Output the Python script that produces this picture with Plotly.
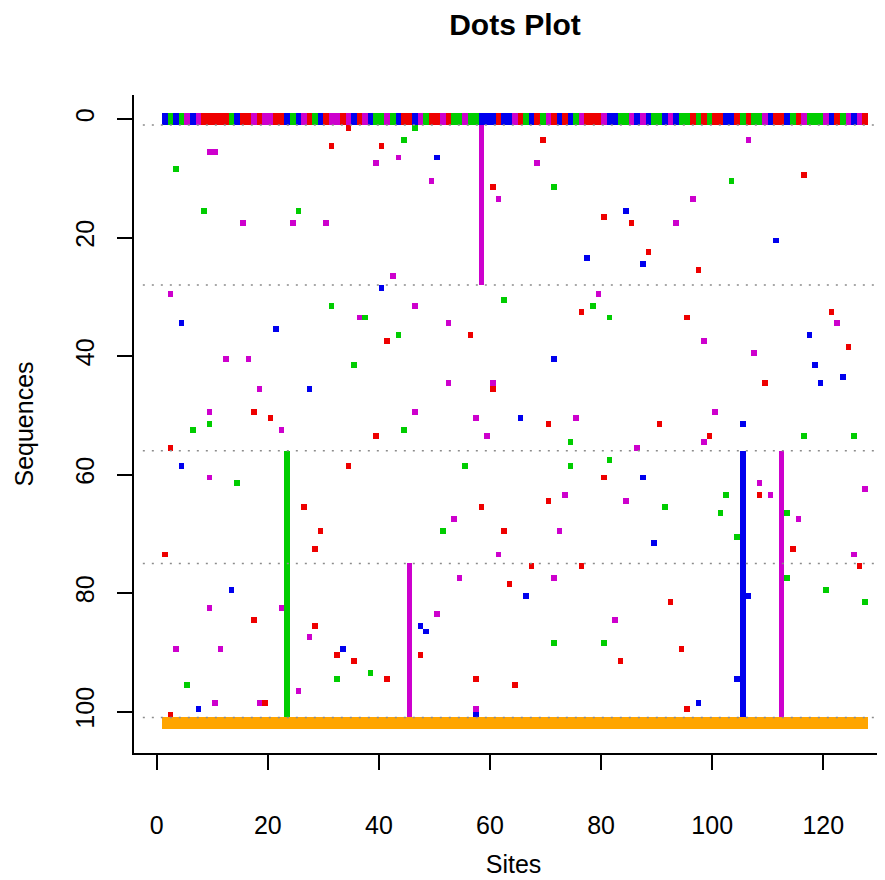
import plotly.graph_objects as go

# ---------------- data ----------------
COLORS = {"R": "#EE0000", "G": "#00CD00", "B": "#0000EE", "M": "#CD00CD"}
CONSENSUS_COLOR = "#FFA500"

# reference sequence (row 0), one letter per site 1..127
reference_row = "".join([
    "BGBGMBM", "RRRRR", "GB", "RR", "M", "R", "MM", "RR", "BGBMRGBR", "MM",
    "RMBRMB", "GG", "MGB", "RR", "BMG", "RR", "MR", "GG", "M", "GG", "BBB",
    "R", "BB", "MRGBRGMRBRBGM", "RRR", "M", "BB", "GG", "MBMB", "GG", "BMB",
    "GG", "RGRG", "RR", "BB", "RGR", "GG", "MB", "RR", "BGRM", "GGG", "MBRGMBMR",
])
reference_sites = list(range(1, len(reference_row) + 1))

# single-site differences: (site, sequence)
red_dots = [(34, 1), (31, 4), (40, 4), (69, 3), (60, 11), (116, 9), (80, 16), (85, 17),
            (88, 22), (97, 25), (56, 36), (41, 37), (60, 45), (17, 49), (20, 50), (39, 53),
            (2, 55), (34, 58), (76, 32), (95, 33), (121, 32), (124, 38), (109, 44), (70, 51),
            (90, 51), (99, 53), (2, 100), (19, 98), (95, 99), (1, 73), (26, 65), (29, 69),
            (28, 72), (58, 65), (62, 69), (67, 75), (70, 64), (80, 60), (76, 75), (108, 63),
            (114, 72), (126, 75), (94, 89), (92, 81), (83, 91), (63, 78), (64, 95), (57, 94),
            (47, 90), (41, 94), (35, 91), (32, 90), (28, 85), (17, 84)]
green_dots = [(46, 1), (44, 3), (3, 8), (8, 15), (25, 15), (71, 11), (103, 10), (62, 30),
              (31, 31), (37, 33), (43, 36), (35, 41), (9, 51), (6, 52), (44, 52), (55, 58),
              (78, 31), (81, 33), (74, 54), (116, 53), (125, 53), (74, 58), (81, 57), (5, 95),
              (14, 61), (51, 69), (91, 65), (101, 66), (102, 63), (104, 70), (113, 66),
              (113, 77), (120, 79), (127, 81), (80, 88), (71, 88), (38, 93), (32, 94)]
blue_dots = [(50, 6), (84, 15), (111, 20), (77, 23), (87, 24), (40, 28), (4, 34), (21, 35),
             (27, 45), (4, 58), (117, 36), (71, 40), (118, 41), (123, 43), (119, 44), (65, 50),
             (105, 51), (7, 99), (57, 100), (97, 98), (87, 60), (89, 71), (106, 80), (104, 94),
             (66, 80), (47, 85), (48, 86), (33, 89), (13, 79)]
magenta_dots = [(106, 3), (9, 5), (10, 5), (43, 6), (39, 7), (49, 10), (61, 13), (15, 17),
                (24, 17), (30, 17), (42, 26), (68, 7), (96, 13), (93, 17), (2, 29), (46, 31),
                (36, 33), (52, 34), (12, 40), (16, 40), (18, 45), (52, 44), (60, 44), (9, 49),
                (46, 49), (57, 50), (22, 52), (59, 53), (79, 29), (122, 34), (98, 37), (107, 39),
                (75, 50), (100, 49), (98, 54), (86, 55), (10, 98), (18, 98), (25, 96), (57, 99),
                (9, 60), (53, 67), (61, 73), (73, 63), (72, 69), (84, 64), (108, 61), (110, 63),
                (115, 67), (125, 73), (127, 62), (82, 84), (71, 77), (54, 77), (50, 83),
                (27, 87), (22, 82), (11, 89), (9, 82), (3, 89)]

# group-wide differences (site, first sequence, last sequence, colour)
block_sites = [58, 23, 45, 105, 112]
block_first = [1, 56, 75, 56, 56]
block_last = [28, 101, 101, 101, 101]
block_codes = ["M", "G", "M", "B", "M"]

# group separators
separator_rows = [1, 28, 56, 75, 101]
separator_from, separator_to = -2.5, 129.1

# bottom consensus bar
consensus_first_site, consensus_last_site = 1, 128
consensus_row, consensus_height = 101, 2

x_ticks = [0, 20, 40, 60, 80, 100, 120]
y_ticks = [0, 20, 40, 60, 80, 100]

# ---------------- figure ----------------
fig = go.Figure()

sx, sy = [], []
for r in separator_rows:
    sx += [separator_from, separator_to, None]
    sy += [r, r, None]
fig.add_trace(go.Scatter(x=sx, y=sy, mode="lines", hoverinfo="skip", showlegend=False,
                         line=dict(color="#8c8c8c", width=1.5, dash="2px,7px")))

# reference row
fig.add_trace(go.Bar(
    x=[s + 0.5 for s in reference_sites], y=[2] * len(reference_sites),
    base=[-1] * len(reference_sites), width=1,
    marker=dict(color=[COLORS[c] for c in reference_row], line=dict(width=0)),
    showlegend=False, hoverinfo="skip"))

for dots, code in [(red_dots, "R"), (green_dots, "G"), (blue_dots, "B"), (magenta_dots, "M")]:
    fig.add_trace(go.Bar(
        x=[s + 0.5 for s, q in dots], y=[1] * len(dots), base=[q for s, q in dots], width=1,
        marker=dict(color=COLORS[code], line=dict(width=0)),
        showlegend=False, hoverinfo="skip"))

fig.add_trace(go.Bar(
    x=[s + 0.5 for s in block_sites], y=[b - a for a, b in zip(block_first, block_last)],
    base=block_first, width=1,
    marker=dict(color=[COLORS[c] for c in block_codes], line=dict(width=0)),
    showlegend=False, hoverinfo="skip"))

fig.add_trace(go.Bar(
    x=[(consensus_first_site + consensus_last_site) / 2], y=[consensus_height],
    base=[consensus_row], width=consensus_last_site - consensus_first_site,
    marker=dict(color=CONSENSUS_COLOR, line=dict(width=0)),
    showlegend=False, hoverinfo="skip"))

FONT = "Liberation Sans, Arial, Helvetica, sans-serif"
fig.update_layout(
    width=885, height=880,
    margin=dict(l=126, r=0, t=87, b=135, pad=0),
    paper_bgcolor="white", plot_bgcolor="white",
    barmode="overlay", bargap=0,
    font=dict(family=FONT, size=25, color="black"),
    title=dict(text="<b>Dots Plot</b>", x=0.502, xref="paper", xanchor="center",
               y=1 - 16 / 880, yref="container", yanchor="middle",
               font=dict(size=30, family=FONT, color="black")),
    xaxis=dict(range=[-4.09, 132.55], tickvals=x_ticks, ticks="outside", ticklen=15,
               tickwidth=1.5, tickcolor="black", showline=True, linecolor="black",
               linewidth=1.5, showgrid=False, zeroline=False, ticklabelstandoff=34,
               automargin=False, tickfont=dict(size=25),
               title=dict(text="Sites", font=dict(size=25), standoff=18)),
    yaxis=dict(range=[107.0, -4.05], tickvals=y_ticks, ticks="outside", ticklen=15,
               tickwidth=1.5, tickcolor="black", showline=True, linecolor="black",
               linewidth=1.5, showgrid=False, zeroline=False, tickangle=-90,
               ticklabelstandoff=13, automargin=False, tickfont=dict(size=25),
               title=dict(text="Sequences", font=dict(size=25), standoff=31)),
)

fig.write_html("out.html")
